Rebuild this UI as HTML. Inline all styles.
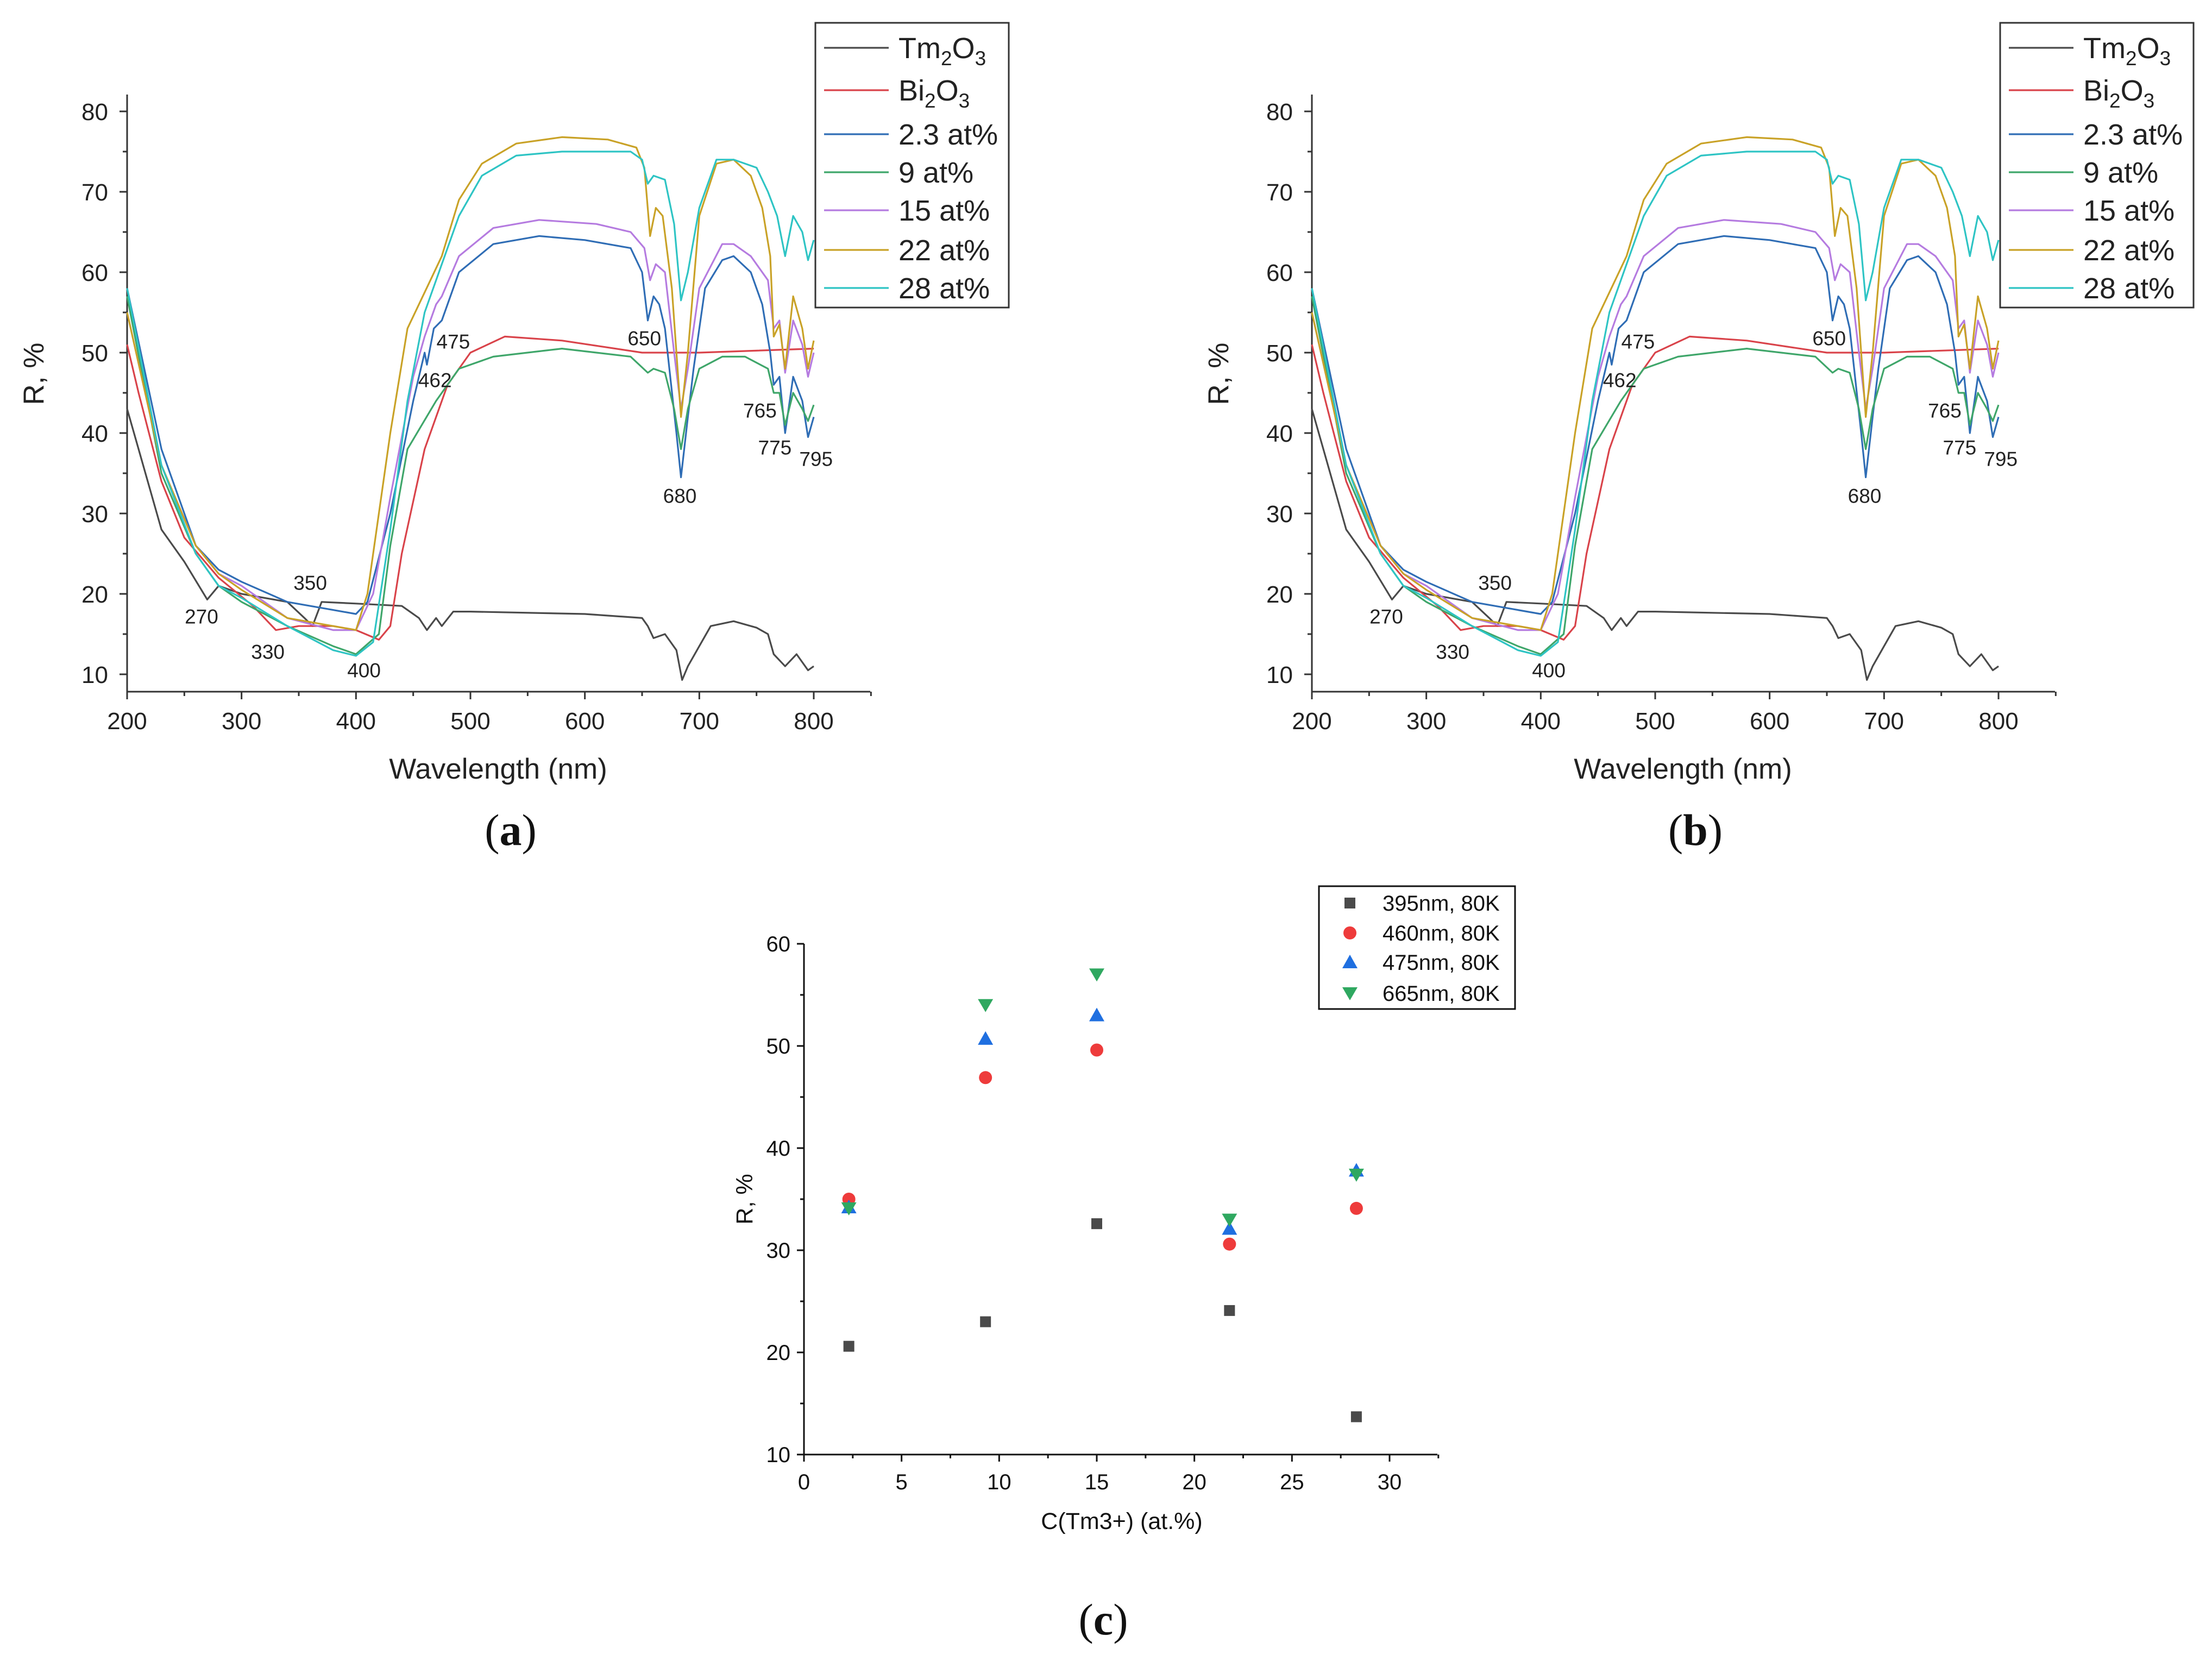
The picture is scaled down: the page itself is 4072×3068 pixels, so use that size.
<!DOCTYPE html>
<html><head><meta charset="utf-8"><style>
html,body{margin:0;padding:0;background:#fff}
svg{display:block;font-family:"Liberation Sans",sans-serif}
</style></head><body>
<svg id="fig" width="4072" height="3068" viewBox="0 0 4072 3068" xmlns="http://www.w3.org/2000/svg"></svg>
<script>
// ---- Spectra data (wavelength nm, reflectance %) ----
const wlTm2O3=[200,210,230,250,270,280,300,340,355,362,370,400,440,455,462,470,475,485,500,600,650,655,660,670,680,685,690,700,710,730,750,760,765,775,785,795,800];
const rTm2O3=[43,38,28,24,19.3,21,20,19,17,16,19,18.8,18.5,17,15.5,17,16,17.8,17.8,17.5,17,16,14.5,15,13,9.3,11,13.5,16,16.6,15.8,15,12.5,11,12.5,10.5,11];
const wlBi2O3=[200,210,230,250,280,310,330,350,380,400,420,430,440,460,480,500,530,580,650,700,800];
const rBi2O3=[51,45,34,27,22,18.5,15.5,16,16,15.5,14.3,16,25,38,46,50,52,51.5,50,50,50.5];
const wl23=[200,230,260,280,300,340,380,400,410,430,450,460,462,468,475,490,520,560,600,640,650,655,660,665,670,680,684,690,695,705,720,730,745,755,762,765,770,775,782,790,795,800];
const r23=[58,38,26,23,21.5,19,18,17.5,19,30,44,50,48.5,53,54,60,63.5,64.5,64,63,60,54,57,56,53,40,34.5,42,48,58,61.5,62,60,56,50,46,47,40,47,44,39.5,42];
const wl9=[200,230,260,280,300,340,380,400,420,430,445,470,490,520,580,640,655,660,670,678,684,690,700,720,740,760,765,770,775,782,790,795,800];
const r9=[57,35,25,21,19,16,13.5,12.5,15,26,38,44,48,49.5,50.5,49.5,47.5,48,47.5,43,38,43,48,49.5,49.5,48,45,45,41,45,43,41.5,43.5];
const wl15=[200,230,260,280,300,340,380,400,415,430,450,460,470,475,490,520,560,610,640,652,657,662,670,678,684,690,700,720,730,745,760,765,770,775,782,790,795,800];
const r15=[55,36,26,22.5,21,17,15.5,15.5,20,32,47,52,56,57,62,65.5,66.5,66,65,63,59,61,60,50,43,48,58,63.5,63.5,62,59,53,54,47.5,54,51,47,50];
const wl22=[200,230,260,280,300,340,380,400,410,430,445,455,465,475,490,510,540,580,620,645,652,657,662,668,676,684,690,700,715,730,745,755,762,765,770,775,782,790,795,800];
const r22=[55,36,26,22.5,20.5,17,16,15.5,20,40,53,56,59,62,69,73.5,76,76.8,76.5,75.5,73,64.5,68,67,58,42,50,67,73.5,74,72,68,62,52,53.5,48,57,53,48,51.5];
const wl28=[200,230,260,280,300,340,380,400,415,430,445,460,475,490,510,540,580,640,650,655,660,670,678,684,690,700,715,730,750,760,768,775,782,790,795,800];
const r28=[58,36,25,21,19.5,16,13,12.3,14,28,44,55,61,67,72,74.5,75,75,74,71,72,71.5,66,56.5,60,68,74,74,73,70,67,62,67,65,61.5,64];
const seriesNames=["Tm2O3","Bi2O3","2.3 at%","9 at%","15 at%","22 at%","28 at%"];
const seriesColors=["#4a4a4a","#d9434a","#2f6db5","#3fa66a","#b57be0","#c9a227","#2ec4c4"];
const seriesWl=[wlTm2O3,wlBi2O3,wl23,wl9,wl15,wl22,wl28];
const seriesR=[rTm2O3,rBi2O3,r23,r9,r15,r22,r28];
const xTicksA=[200,300,400,500,600,700,800];
const yTicksA=[10,20,30,40,50,60,70,80];
const annWl=[265,323,360,407,469,485,652,683,753,766,802];
const annR=[17.2,12.8,21.4,10.5,46.6,51.4,51.8,32.2,42.8,38.2,36.8];
const annText=["270","330","350","400","462","475","650","680","765","775","795"];
// ---- Scatter data ----
const conc=[2.3,9.3,15,21.8,28.3];
const r395=[20.6,23,32.6,24.1,13.7];
const r460=[35,46.9,49.6,30.6,34.1];
const r475=[34.2,50.7,53,32.1,37.8];
const r665=[34.1,54,57,33,37.4];
const xTicksC=[0,5,10,15,20,25,30];
const yTicksC=[10,20,30,40,50,60];

const NS="http://www.w3.org/2000/svg";
const svg=document.getElementById('fig');
function mk(tag,attrs,parent,text){const e=document.createElementNS(NS,tag);for(const k in attrs)e.setAttribute(k,attrs[k]);if(text!==undefined)e.textContent=text;(parent||svg).appendChild(e);return e;}

function drawSpectra(ox,label,nm){
  const g=mk('g',{});
  
  
  const X=w=>ox+234+(w-200)*1264/600;
  const Y=r=>205+(80-r)*1036/70;
  const base=1273;
  const ax=mk('path',{d:`M${ox+234} 174 V${base} H${ox+1602}`,stroke:'#333',fill:'none','stroke-width':3},g);
  
  
  for(let w=200;w<=850;w+=50){mk('line',{x1:X(w),x2:X(w),y1:base,y2:base+(w%100===0?14:8),stroke:'#333','stroke-width':3},g);}
  for(let r=10;r<=82;r+=5){mk('line',{x1:ox+234,x2:ox+234-(r%10===0?14:8),y1:Y(r),y2:Y(r),stroke:'#333','stroke-width':3},g);}
  xTicksA.forEach(v=>{const t=mk('text',{x:X(v),y:base+69,'font-size':44,'text-anchor':'middle',fill:'#222'},g,v);});
  yTicksA.forEach(v=>{const t=mk('text',{x:ox+199,y:Y(v)+16,'font-size':44,'text-anchor':'end',fill:'#222'},g,v);});
  const xt=mk('text',{x:ox+917,y:1433,'font-size':53,'text-anchor':'middle',fill:'#222'},g,'Wavelength (nm)');
  
  const yt=mk('text',{x:ox+80,y:688,'font-size':53,'text-anchor':'middle',fill:'#222',transform:`rotate(-90 ${ox+80} 688)`},g,'R, %');
  
  for(let s=0;s<seriesNames.length;s++){
    const pts=seriesWl[s].map((w,i)=>X(w).toFixed(1)+','+Y(seriesR[s][i]).toFixed(1)).join(' ');
    const pl=mk('polyline',{points:pts,fill:'none',stroke:seriesColors[s],'stroke-width':3.2,'stroke-linejoin':'round'},g);
    
    
  }
  annText.forEach((t,i)=>{const e=mk('text',{x:X(annWl[i]),y:Y(annR[i])+13,'font-size':37,'text-anchor':'middle',fill:'#222'},g,t);});
  const lg=mk('g',{},g);
  
  
  mk('rect',{x:ox+1501,y:42,width:356,height:524,fill:'#fff',stroke:'#333','stroke-width':3},lg);
  const rows=[88,166,247,317,387,460,530];
  seriesNames.forEach((n,i)=>{
    const le=mk('g',{},lg);
    
    
    mk('line',{x1:ox+1517,x2:ox+1636,y1:rows[i],y2:rows[i],stroke:seriesColors[i],'stroke-width':3.2},le);
    const t=mk('text',{x:ox+1654,y:rows[i]+19,'font-size':54,fill:'#222'},le);
    if(i<2){const parts=i===0?['Tm','2','O','3']:['Bi','2','O','3'];
      parts.forEach((p,k)=>{mk('tspan',k%2?{'font-size':37,dy:13}:{dy:k?-13:0},t,p);});}
    else t.textContent=n;
  });
  const pl=mk('text',{x:ox+940,y:1555,'font-size':82,'text-anchor':'middle',fill:'#111','font-family':'Liberation Serif, serif'},g);
  mk('tspan',{},pl,'(');mk('tspan',{'font-weight':'bold'},pl,label);mk('tspan',{},pl,')');
  
}
drawSpectra(0,'a','spectra-chart-a');
drawSpectra(2181,'b','spectra-chart-b');

// ---- Scatter panel c ----
(function(){
  const g=mk('g',{});
  
  
  const X=v=>1480+v*(2558-1480)/30;
  const Y=v=>1737+(60-v)*(2677-1737)/50;
  const ax=mk('path',{d:`M1480 1737 V2677 H2646`,stroke:'#111',fill:'none','stroke-width':3},g);
  
  for(let v=0;v<=32.5;v+=2.5){mk('line',{x1:X(v),x2:X(v),y1:2677,y2:2677+(v%5===0?13:7),stroke:'#111','stroke-width':3},g);}
  for(let v=10;v<=60;v+=5){mk('line',{x1:1480,x2:1480-(v%10===0?13:7),y1:Y(v),y2:Y(v),stroke:'#111','stroke-width':3},g);}
  xTicksC.forEach(v=>{const t=mk('text',{x:X(v),y:2741,'font-size':40,'text-anchor':'middle',fill:'#111'},g,v);});
  yTicksC.forEach(v=>{const t=mk('text',{x:1455,y:Y(v)+14,'font-size':40,'text-anchor':'end',fill:'#111'},g,v);});
  const xt=mk('text',{x:2065,y:2814,'font-size':43,'text-anchor':'middle',fill:'#111'},g,'C(Tm3+) (at.%)');
  
  const yt=mk('text',{x:1385,y:2207,'font-size':43,'text-anchor':'middle',fill:'#111',transform:'rotate(-90 1385 2207)'},g,'R, %');
  
  function marker(type,cx,cy,parent){
    if(type==='sq') return mk('rect',{x:cx-10,y:cy-10,width:20,height:20,fill:'#4a4a4a'},parent);
    if(type==='ci') return mk('circle',{cx:cx,cy:cy,r:12,fill:'#ee3b3b'},parent);
    if(type==='up') return mk('polygon',{points:`${cx},${cy-14} ${cx-14},${cy+11} ${cx+14},${cy+11}`,fill:'#1f6fe0'},parent);
    return mk('polygon',{points:`${cx},${cy+13} ${cx-14},${cy-11} ${cx+14},${cy-11}`,fill:'#2fa860'},parent);
  }
  const sets=[[r395,'sq'],[r460,'ci'],[r475,'up'],[r665,'dn']];
  sets.forEach(([arr,type])=>{arr.forEach((v,i)=>{const m=marker(type,X(conc[i]),Y(v),g);});});
  const lg=mk('g',{},g);
  
  mk('rect',{x:2428,y:1631,width:361,height:226,fill:'#fff',stroke:'#111','stroke-width':3},lg);
  const labels=['395nm, 80K','460nm, 80K','475nm, 80K','665nm, 80K'];
  const rows=[1662,1717,1771,1828];
  labels.forEach((l,i)=>{
    const le=mk('g',{},lg);
    
    marker(sets[i][1],2485,rows[i],le);
    mk('text',{x:2545,y:rows[i]+14,'font-size':40,fill:'#111'},le,l);
  });
  const pl=mk('text',{x:2031,y:3008,'font-size':82,'text-anchor':'middle',fill:'#111','font-family':'Liberation Serif, serif'},g);
  mk('tspan',{},pl,'(');mk('tspan',{'font-weight':'bold'},pl,'c');mk('tspan',{},pl,')');
  
})();
</script>
</body></html>
